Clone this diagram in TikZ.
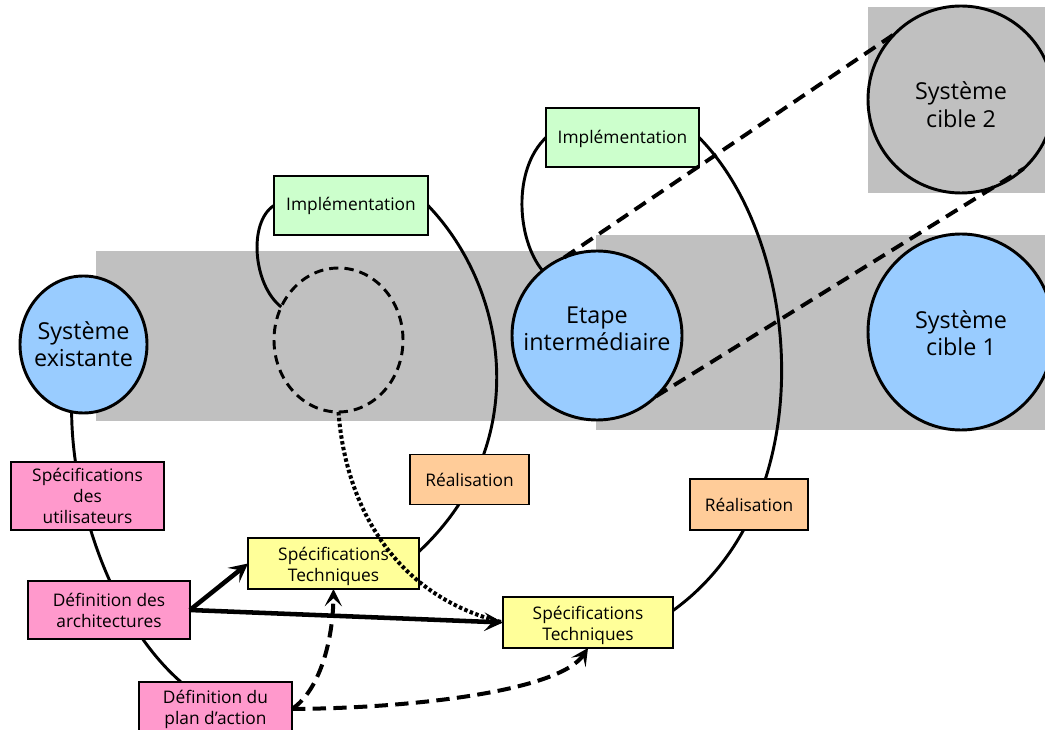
\documentclass[tikz,border=0pt]{standalone}
\usepackage{fontspec}
\setmainfont{Open Sans}
\usetikzlibrary{arrows.meta,shapes.geometric}
\definecolor{pinkc}{HTML}{FF99CC}
\definecolor{greenc}{HTML}{CCFFCC}
\definecolor{yellowc}{HTML}{FFFF99}
\definecolor{orangec}{HTML}{FFCC99}
\definecolor{bluec}{HTML}{99CCFF}
\definecolor{greyc}{HTML}{C0C0C0}
\pgfdeclarelayer{greys}
\pgfdeclarelayer{curves}
\pgfdeclarelayer{top}
\pgfsetlayers{greys,curves,main,top}
\newcommand{\nw}[1]{\makebox[0pt][c]{#1}}
\tikzset{
  boxbase/.style={draw=black,rectangle,inner sep=0pt,outer sep=0pt,align=center,text=black,
    font=\fontsize{13}{15.75}\selectfont},
  pinkbox/.style={boxbase,fill=pinkc,line width=2pt},
  yellowbox/.style={boxbase,fill=yellowc,line width=2pt},
  greenbox/.style={boxbase,fill=greenc,line width=1.7pt},
  orangebox/.style={boxbase,fill=orangec,line width=0.8pt},
  bubble/.style={draw=black,ellipse,line width=2.2pt,inner sep=0pt,outer sep=0pt,align=center,
    font=\fontsize{17.5}{20.5}\selectfont},
  lifeline/.style={draw=black,line width=2.2pt},
  jump/.style={draw=black,line width=2.9pt,dash pattern=on 10pt off 6pt},
  thickarrow/.style={draw=black,line width=3.4pt,-{Stealth[length=14pt,width=14pt,inset=6pt]}},
  planarrow/.style={draw=black,line width=3pt,dash pattern=on 10pt off 5.5pt,-{Stealth[length=13pt,width=13pt,inset=6pt]}},
  dots/.style={draw=black,line width=3pt,dash pattern=on 2.6pt off 1.8pt},
}
\begin{document}
\begin{tikzpicture}[x=0.75pt,y=-0.75pt]
\useasboundingbox (0,0) rectangle (1045,730);
\begin{pgfonlayer}{greys}
  \fill[greyc] (96,251) rectangle (596,421);
  \fill[greyc] (596,235) rectangle (1045,430);
  \fill[greyc] (868,7) rectangle (1045,193);
\end{pgfonlayer}

% Circles
\node[bubble,fill=bluec,minimum width=127*0.75pt,minimum height=137*0.75pt] (exist) at (83.5,344.5) {\nw{Système}\\\nw{existante}};
\node[bubble,fill=bluec,minimum width=170*0.75pt,minimum height=169*0.75pt] (etape) at (597,335.5) {\nw{Etape}\\\rule[-9.8pt]{0pt}{9.8pt}\nw{intermédiaire}};
\node[bubble,fill=bluec,minimum width=186*0.75pt,minimum height=196*0.75pt] (cibleA) at (961,332) {\rule{0pt}{15pt}\nw{Système}\\\nw{cible 1}};
\node[bubble,fill=greyc,minimum width=186*0.75pt,minimum height=187*0.75pt] (cibleB) at (961,99.5) {\rule{0pt}{21pt}\nw{Système}\\\nw{cible 2}};
\node[draw=black,ellipse,line width=2.2pt,dash pattern=on 7pt off 4.5pt,inner sep=0pt,outer sep=0pt,
  minimum width=129*0.75pt,minimum height=144*0.75pt] (ghost) at (338.5,340) {};

% Boxes
\node[greenbox,minimum width=154*0.75pt,minimum height=59*0.75pt] (implA) at (351,205.5) {Implémentation};
\node[greenbox,minimum width=153*0.75pt,minimum height=59*0.75pt] (implB) at (622.5,137.5) {\rule{0pt}{12.5pt}Implémentation};
\node[orangebox,minimum width=119*0.75pt,minimum height=50*0.75pt] (realA) at (469.5,479.5) {Réalisation};
\node[orangebox,minimum width=118*0.75pt,minimum height=51*0.75pt] (realB) at (749,504.5) {Réalisation};
\node[pinkbox,minimum width=153*0.75pt,minimum height=68*0.75pt] (users) at (87.5,496) {Spécifications\\des\\utilisateurs};
\node[pinkbox,minimum width=162*0.75pt,minimum height=58*0.75pt] (archi) at (109,610) {Définition des\\architectures};
\node[pinkbox,minimum width=153*0.75pt,minimum height=54*0.75pt] (plan) at (215.5,709) {Définition du\\plan d’action};
\node[yellowbox,minimum width=171*0.75pt,minimum height=51*0.75pt] (techA) at (333.5,563.5) {\rule{0pt}{14.5pt}Spécifications\\Techniques};
\node[yellowbox,minimum width=170*0.75pt,minimum height=51*0.75pt] (techB) at (588,622.5) {\rule{0pt}{14.5pt}Spécifications\\Techniques};

% Solid lifelines behind the shapes
\begin{pgfonlayer}{curves}
  \path[lifeline] (exist.-100) .. controls (72,500) and (110,620) .. (plan.142);
  \path[lifeline] (ghost.150) .. controls (253,285) and (248,222) .. (implA.west);
  \path[lifeline] (implA.east) .. controls (509,290) and (533,445) .. (techA.8);
  \path[lifeline] (etape.130) .. controls (517,240) and (512,170) .. (implB.west);
  \path[lifeline] (implB.east) .. controls (801,240) and (826,500) .. (techB.8);
\end{pgfonlayer}

% Overlaid connectors
\begin{pgfonlayer}{top}
  \path[jump] (etape.113) -- (cibleB.135);
  \path[jump] (etape.-46) -- (cibleB.-48);
  \path[thickarrow] (archi.east) -- (techA.west);
  \path[thickarrow] (archi.east) -- (techB.west);
  \path[dots] (ghost.south) .. controls (345,500) and (390,595) .. (techB.west);
  \path[planarrow] (plan.east) .. controls (320,690) and (333,640) .. (techA.south);
  \path[planarrow] (plan.east) .. controls (420,708) and (560,690) .. (techB.south);
\end{pgfonlayer}
\end{tikzpicture}
\end{document}
